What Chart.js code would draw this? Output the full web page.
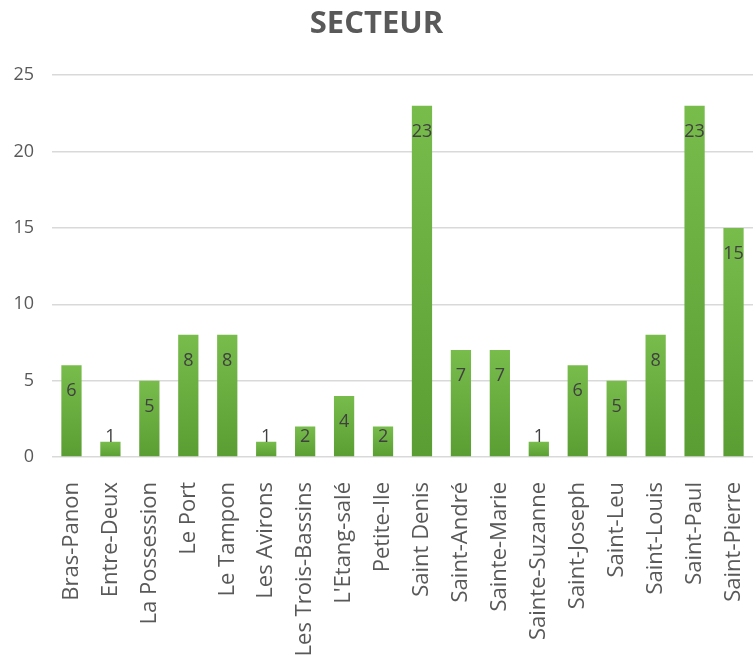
<!DOCTYPE html>
<html>
<head>
<meta charset="utf-8">
<script src="https://cdn.jsdelivr.net/npm/chart.js@4"></script>
<style>
  html, body { margin: 0; padding: 0; background: #fff; }
  #wrap { width: 753px; height: 666px; }
</style>
</head>
<body>
<div id="wrap"><canvas id="myChart"></canvas></div>
<script>
const secteurs = [
  "Bras-Panon", "Entre-Deux", "La Possession", "Le Port", "Le Tampon",
  "Les Avirons", "Les Trois-Bassins", "L'Etang-salé", "Petite-Ile",
  "Saint Denis", "Saint-André", "Sainte-Marie", "Sainte-Suzanne",
  "Saint-Joseph", "Saint-Leu", "Saint-Louis", "Saint-Paul", "Saint-Pierre"
];
const effectifs = [6, 1, 5, 8, 8, 1, 2, 4, 2, 23, 7, 7, 1, 6, 5, 8, 23, 15];
const yMax = 25;
const yStep = 5;

// labels inside the top of each bar
const barLabels = {
  id: "barLabels",
  afterDatasetsDraw(chart) {
    const c = chart.ctx;
    const meta = chart.getDatasetMeta(0);
    const base = chart.scales.y.getPixelForValue(0);
    c.save();
    c.font = "18px 'Open Sans'";
    c.fillStyle = "#404040";
    c.textAlign = "center";
    c.textBaseline = "middle";
    meta.data.forEach((bar, i) => {
      const y = Math.min(bar.y + 26, base - 20);
      c.fillText(effectifs[i], bar.x, y);
    });
    c.restore();
  },
};

const ctx = document.getElementById("myChart");

new Chart(ctx, {
  type: "bar",
  data: {
    labels: secteurs,
    datasets: [
      {
        label: "SECTEUR",
        data: effectifs,
        backgroundColor: (context) => {
          const chart = context.chart;
          const ys = chart.scales.y;
          if (!ys || context.raw === undefined) return "#6aae3e";
          const top = ys.getPixelForValue(context.raw);
          const bottom = ys.getPixelForValue(0);
          if (!isFinite(top) || top === bottom) return "#6aae3e";
          const g = chart.ctx.createLinearGradient(0, top, 0, bottom);
          g.addColorStop(0, "#78bc4c");
          g.addColorStop(1, "#5a9e33");
          return g;
        },
        borderWidth: 0,
        categoryPercentage: 1,
        barPercentage: 0.52,
      },
    ],
  },
  options: {
    responsive: true,
    maintainAspectRatio: false,
    animation: false,
    layout: { padding: { left: 0, right: 0, top: 0, bottom: 0 } },
    plugins: {
      legend: { display: false },
      tooltip: { enabled: false },
      title: {
        display: true,
        text: "SECTEUR",
        color: "#595959",
        font: { family: "'Open Sans'", size: 31, weight: "bold" },
        padding: { top: 6, bottom: 32 },
      },
    },
    scales: {
      x: {
        grid: { display: false },
        border: { display: false },
        ticks: {
          color: "#595959",
          font: { family: "'Open Sans'", size: 22 },
          minRotation: 90,
          maxRotation: 90,
          autoSkip: false,
          padding: 17,
        },
        afterFit: (scale) => {
          scale.height = 209;
          scale.paddingLeft = 0;
          scale.paddingRight = 0;
        },
      },
      y: {
        min: 0,
        max: yMax,
        border: { display: false },
        grid: { color: "#d9d9d9", lineWidth: 1.5, drawTicks: false },
        ticks: {
          stepSize: yStep,
          color: "#595959",
          font: { family: "'Open Sans'", size: 18 },
          padding: 18,
        },
        afterFit: (scale) => { scale.width = 52; },
      },
    },
  },
  plugins: [barLabels],
});
</script>
</body>
</html>
